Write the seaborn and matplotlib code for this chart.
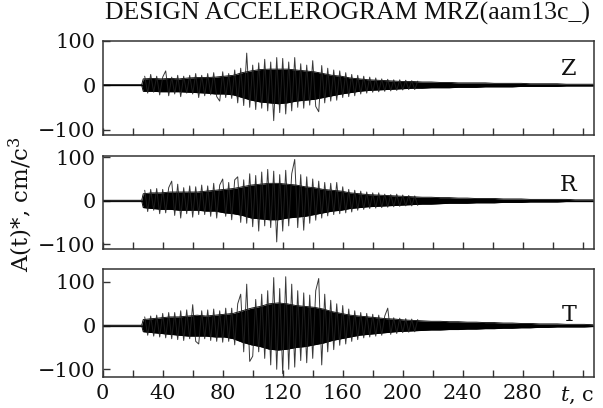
import numpy as np
import seaborn as sns
import matplotlib.pyplot as plt

# envelope of the dense black core of each trace (cm/c^3), sampled at these times (s)
core_time = [0, 26] + list(range(27, 328, 6))

Z_upper = [1, 1, 14, 15, 14, 15, 14, 16, 17, 17, 18, 20, 22, 28, 32, 35, 36, 36, 36, 34,
           32, 30, 26, 22, 20, 16, 14, 12, 11, 10, 9, 8, 8, 7, 7, 6, 6, 5, 5, 5,
           5, 4, 4, 4, 4, 3, 3, 3, 3, 2, 2, 2, 2]
Z_lower = [-1, -1, -14, -14, -15, -15, -15, -16, -17, -18, -20, -20, -22, -28, -34, -38, -40, -42, -40, -36,
           -34, -32, -28, -24, -20, -17, -14, -12, -11, -10, -9, -8, -7, -7, -6, -6, -6, -5, -5, -5,
           -4, -4, -4, -4, -3, -3, -3, -3, -3, -2, -2, -2, -2]
R_upper = [1, 1, 16, 18, 18, 20, 20, 20, 20, 22, 24, 26, 28, 32, 36, 38, 40, 40, 38, 36,
           32, 30, 26, 24, 22, 18, 16, 14, 13, 12, 11, 10, 9, 8, 8, 7, 7, 6, 6, 5,
           5, 5, 4, 4, 4, 3, 3, 3, 3, 3, 2, 2, 2]
R_lower = [-1, -1, -16, -18, -20, -20, -22, -22, -22, -24, -24, -28, -30, -34, -40, -42, -44, -44, -40, -38,
           -36, -32, -28, -24, -22, -18, -16, -14, -13, -12, -11, -10, -9, -8, -8, -7, -6, -6, -6, -5,
           -5, -5, -4, -4, -4, -3, -3, -3, -3, -2, -2, -2, -2]
T_upper = [1, 1, 14, 16, 18, 20, 20, 22, 24, 22, 24, 26, 28, 34, 40, 44, 50, 52, 50, 46,
           44, 42, 38, 32, 28, 24, 22, 20, 18, 16, 15, 13, 12, 11, 10, 10, 9, 9, 8, 8,
           7, 7, 6, 6, 5, 5, 4, 4, 4, 3, 3, 3, 2]
T_lower = [-1, -1, -14, -16, -18, -20, -22, -24, -24, -24, -26, -26, -30, -38, -44, -48, -54, -56, -54, -50,
           -48, -44, -40, -34, -30, -26, -22, -20, -18, -16, -14, -13, -12, -11, -10, -10, -9, -9, -8, -8,
           -7, -7, -6, -6, -5, -5, -4, -4, -3, -3, -3, -3, -2]

# successive swings of the trace every 2 s from 28 s to 210 s
swing_time = list(range(28, 212, 2))

Z_swing = [20, -18, 24, -16, 20, -22, 18, 32, -24, 18,
           -20, 22, -26, 20, -18, 22, -20, 26, -28, 22,
           -24, 26, -22, 28, -26, -36, 30, -28, 26, -30,
           34, -40, 38, -46, 72, -50, 45, -55, 50, -52,
           58, -58, 52, -80, 62, -62, 60, -65, 52, -58,
           62, -50, 48, -52, 45, -45, 55, -48, -60, 44,
           -40, 38, -36, 34, -34, 32, -28, 28, -26, 24,
           -24, 22, -20, 20, -18, 18, -16, 16, -15, 14,
           -14, 13, -13, 12, -12, 12, -11, 11, -10, 10,
           -10, 9]
R_swing = [24, -25, 26, -22, 28, -30, 26, -28, 30, 45,
           -34, 38, -40, 30, -30, 34, -38, 32, -32, 36,
           -32, 34, -36, 40, -40, 36, 50, -36, 42, -44,
           48, 55, -50, 48, -52, 62, -60, 58, -70, 66,
           -58, 72, -62, 68, -95, 60, -70, 70, -58, 62,
           95, -62, 60, -68, 55, -52, 50, -45, 45, -40,
           42, -35, 40, -32, 42, -30, 32, -28, 26, -26,
           24, -22, 22, -20, 20, -18, 18, -17, 18, -16,
           15, -15, 14, -14, 15, -13, 13, -12, 12, -12,
           11, -11]
T_swing = [20, -22, 22, -24, 24, -26, 28, -28, 30, -30,
           30, -32, 34, -34, 36, -30, 48, -36, -42, 34,
           -30, 36, -34, 38, -36, 34, -38, 40, -36, 40,
           -44, 50, 72, -60, 95, -82, -70, 60, -60, 72,
           -75, 80, -90, 110, -100, 85, -110, 112, -100, 95,
           -95, 80, -80, 75, -85, 70, -75, 80, 108, -90,
           72, -60, 58, -55, 50, -45, 46, -42, 38, -36,
           34, -32, 30, -28, 28, -26, 26, -24, 24, -22,
           22, 40, -20, 18, -18, 17, -16, 16, -15, 15,
           -14, 14]

panel_names = ["Z", "R", "T"]
x_major = [0, 40, 80, 120, 160, 200, 240, 280]

sns.set_theme(style="ticks")
plt.rcParams["font.family"] = ["DejaVu Serif", "DejaVu Sans"]
plt.rcParams["mathtext.fontset"] = "dejavuserif"

fig = plt.figure(figsize=(6.03, 4.08), dpi=100)
boxes = [[0.1703, 0.6684, 0.8148, 0.2319],
         [0.1703, 0.3890, 0.8148, 0.2287],
         [0.1703, 0.0767, 0.8148, 0.2632]]
ylims = [(-113, 97), (-112, 103), (-117, 129)]
label_y = [0.70, 0.69, 0.57]
traces = [(Z_upper, Z_lower, Z_swing),
          (R_upper, R_lower, R_swing),
          (T_upper, T_lower, T_swing)]

for i, (hi, lo, sw) in enumerate(traces):
    ax = fig.add_axes(boxes[i])
    ax.axhline(0, color="#555555", lw=1.0, zorder=1)
    ax.fill_between(core_time, lo, hi, color="black", lw=0, zorder=2)
    sns.lineplot(x=core_time, y=hi, ax=ax, color="black", lw=0.6, zorder=2)
    sns.lineplot(x=core_time, y=lo, ax=ax, color="black", lw=0.6, zorder=2)
    sns.lineplot(x=swing_time, y=sw, ax=ax, color="#222222", lw=0.7, alpha=0.9, zorder=3)

    ax.set_xlim(0, 327.5)
    ax.set_ylim(*ylims[i])
    ax.set_yticks([-100, 0, 100])
    ax.set_yticklabels(["\u2212100", "0", "100"])
    ax.set_xticks(np.arange(0, 321, 20))
    if i == 2:
        ax.set_xticklabels([str(v) if v in x_major else "" for v in range(0, 321, 20)])
        ax.annotate("$t$, c", xy=(316, 0), xycoords=("data", "axes fraction"),
                    xytext=(0, -6), textcoords="offset points",
                    ha="center", va="top", fontsize=15, color="#111111")
    else:
        ax.set_xticklabels([])
    ax.tick_params(direction="in", length=5, width=1.0, color="#333333",
                   labelsize=15, pad=5, labelcolor="#111111")
    for s in ax.spines.values():
        s.set_color("#333333")
        s.set_linewidth(1.1)
    ax.set_xlabel("")
    ax.set_ylabel("")
    ax.text(0.965, label_y[i], panel_names[i], transform=ax.transAxes,
            ha="right", va="center", fontsize=16, color="#111111")

fig.text(0.577, 0.968, "DESIGN ACCELEROGRAM MRZ(aam13c_)", ha="center", va="center",
         fontsize=18.5, color="#111111", family=["Liberation Serif", "DejaVu Serif"])
fig.text(0.034, 0.50, "A(t)*, cm/c$^3$", rotation=90, ha="center", va="center",
         fontsize=16.5, color="#111111")

fig.savefig("out.png", dpi=100)
